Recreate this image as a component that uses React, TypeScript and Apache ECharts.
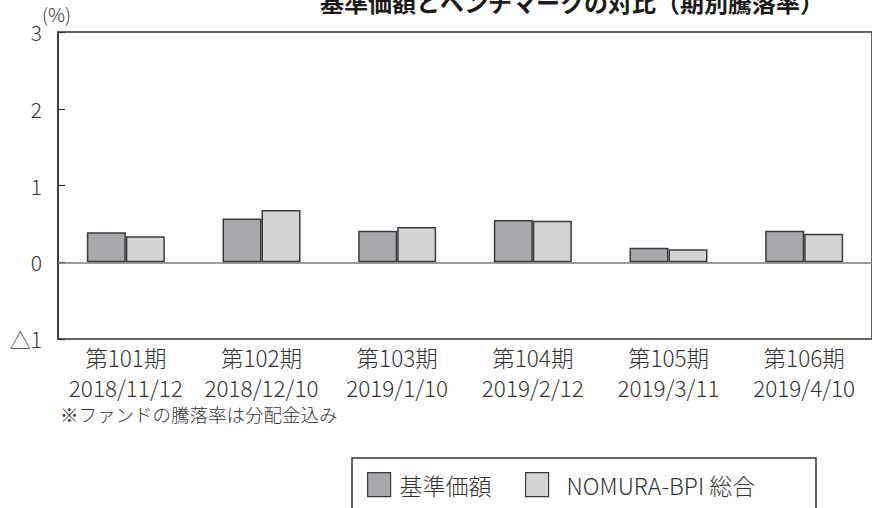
import React, { useEffect, useRef } from "react";
import * as echarts from "echarts";

const categories = ["第101期\n2018/11/12", "第102期\n2018/12/10", "第103期\n2019/1/10", "第104期\n2019/2/12", "第105期\n2019/3/11", "第106期\n2019/4/10"];
const fundValues = [0.39, 0.57, 0.41, 0.55, 0.19, 0.41];
const benchValues = [0.34, 0.68, 0.46, 0.54, 0.17, 0.37];
const seriesNames = ["基準価額", "NOMURA-BPI 総合"];
const yTicks = { min: -1, max: 3, interval: 1 };

const FONT = "'Noto Sans CJK JP', 'Noto Sans', sans-serif";

export default function App() {
  const ref = useRef<HTMLDivElement>(null);
  useEffect(() => {
    if (!ref.current) return;
    const chart = echarts.init(ref.current, undefined, { renderer: "svg" });
    const legendBase = {
      top: 472,
      padding: 0,
      itemWidth: 23, itemHeight: 24,
      icon: "rect",
      itemStyle: { borderColor: "#3a3a3a", borderWidth: 1.2 },
    };
    chart.setOption({
      animation: false,
      textStyle: { fontFamily: FONT },
      grid: {
        left: 58, right: -2, top: 32, bottom: 169,
        show: true, borderColor: "#333", borderWidth: 1.5, backgroundColor: "transparent",
      },
      xAxis: {
        type: "category",
        data: categories,
        axisLine: { show: false, onZero: false },
        axisTick: { show: false },
        axisLabel: { color: "#333", fontSize: 22.5, lineHeight: 30, margin: 3, fontWeight: 300, fontFamily: FONT, interval: 0 },
        splitLine: { show: false },
      },
      yAxis: {
        type: "value",
        min: yTicks.min, max: yTicks.max, interval: yTicks.interval,
        axisLine: { show: true, lineStyle: { color: "#333", width: 1.5 } },
        axisTick: { show: true, inside: true, length: 7, lineStyle: { color: "#333", width: 1.2 } },
        splitLine: { show: false },
        axisLabel: {
          color: "#333", fontSize: 21, margin: 16, fontWeight: 300, fontFamily: FONT,
          formatter: (v: number) => (v < 0 ? "△" + Math.abs(v) : String(v)),
        },
      },
      legend: [
        {
          ...legendBase,
          left: 367,
          textStyle: { color: "#333", fontSize: 23, fontWeight: 300, fontFamily: FONT, padding: [0, 0, 0, 4] },
          data: [seriesNames[0]],
        },
        {
          ...legendBase,
          left: 525,
          textStyle: { color: "#333", fontSize: 23, fontWeight: 300, fontFamily: FONT, padding: [0, 0, 0, 13] },
          data: [seriesNames[1]],
        },
      ],
      series: [
        {
          name: seriesNames[0], type: "bar", data: fundValues, barWidth: 39, barGap: "0%",
          itemStyle: { color: "#a7a8ab", borderColor: "#3a3a3a", borderWidth: 1.5 },
          markLine: {
            silent: true, symbol: "none", label: { show: false },
            lineStyle: { color: "#7a7a7a", width: 1.5, type: "solid" },
            data: [{ yAxis: 0 }],
          },
        },
        {
          name: seriesNames[1], type: "bar", data: benchValues, barWidth: 39,
          itemStyle: { color: "#d3d4d6", borderColor: "#3a3a3a", borderWidth: 1.5 },
        },
      ],
      graphic: [
        {
          type: "text", left: 320, top: -11,
          style: { text: "基準価額とベンチマークの対比（期別騰落率）", font: `bold 24px ${FONT}`, fill: "#1a1a1a" },
        },
        {
          type: "text", left: 42, top: 4,
          style: { text: "(%)", font: `300 19px ${FONT}`, fill: "#333" },
        },
        {
          type: "text", left: 60, top: 405,
          style: { text: "※ファンドの騰落率は分配金込み", font: `300 18.5px ${FONT}`, fill: "#333" },
        },
        {
          type: "rect", shape: { x: 352, y: 458, width: 464, height: 70 },
          style: { fill: "none", stroke: "#333", lineWidth: 1.5 },
        },
      ],
    });
    return () => chart.dispose();
  }, []);
  return <div ref={ref} style={{ width: 872, height: 508, position: "absolute", left: 0, top: 0 }} />;
}
